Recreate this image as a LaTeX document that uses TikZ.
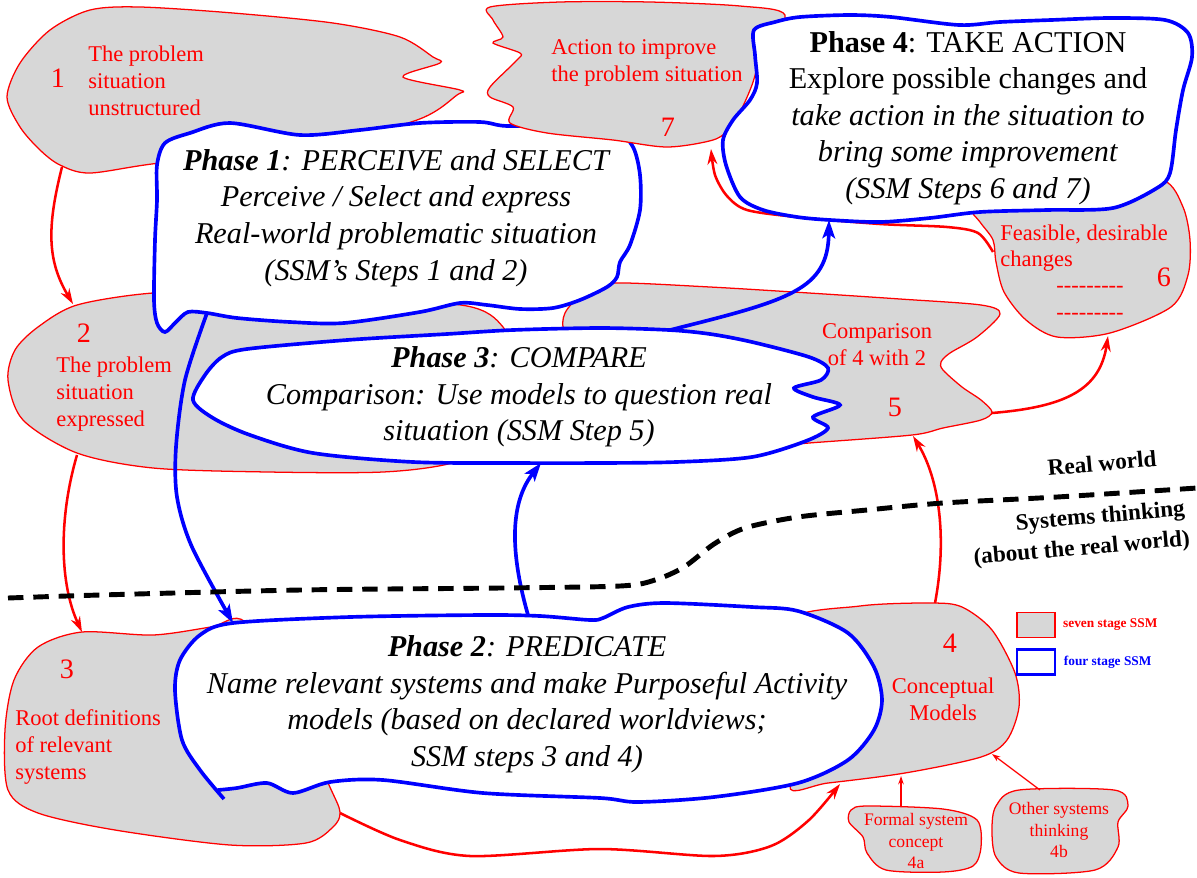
\documentclass[tikz,border=0pt]{standalone}
\usepackage{fontspec}
\setmainfont{Liberation Serif}
\usepackage{xcolor}
\usetikzlibrary{arrows.meta, positioning, calc}
\definecolor{ssm-grey}{HTML}{D7D7D7}
\definecolor{ssm-red}{HTML}{FF0000}
\definecolor{ssm-blue}{HTML}{0000FF}
\newcommand{\blankrow}{\mbox{-}\mbox{-}\mbox{-}\mbox{-}\mbox{-}\mbox{-}\mbox{-}\mbox{-}\mbox{-}}

\begin{document}
\begin{tikzpicture}[x=0.025cm, y=-0.025cm,
    stage/.style={draw=ssm-red, fill=ssm-grey, line width=0.9pt},
    phase/.style={draw=ssm-blue, fill=white, line width=2.6pt},
    redflow/.style={-{Stealth[length=11pt, width=7pt]}, draw=ssm-red, line width=1.8pt},
    thinflow/.style={-{Stealth[length=6pt, width=4pt]}, draw=ssm-red, line width=0.9pt},
    blueflow/.style={-{Stealth[length=13pt, width=9pt, inset=3pt]}, draw=ssm-blue, line width=2.6pt},
    stagetxt/.style={text=ssm-red, font=\fontsize{16}{19}\selectfont, align=left, inner sep=0pt},
    stagenum/.style={text=ssm-red, font=\fontsize{20}{24}\selectfont, inner sep=0pt},
    subtxt/.style={text=ssm-red, font=\fontsize{12.5}{15.2}\selectfont, align=center, inner sep=0pt},
    phasetxt/.style={font=\fontsize{21.5}{26}\selectfont\itshape, align=center, inner sep=0pt},
    worldtxt/.style={font=\fontsize{16.5}{18.5}\selectfont\bfseries, rotate=5, inner sep=0pt},
    keytxt/.style={font=\fontsize{9.5}{11}\selectfont\bfseries, inner sep=0pt},
    keybox/.style={minimum width=0.95cm, minimum height=0.62cm, inner sep=0pt},
    divider/.style={line width=3.5pt, dash pattern=on 11pt off 7pt}
]
    \useasboundingbox (0,0) rectangle (1197,877);

    \draw[stage] plot[smooth cycle] coordinates {(7,97) (20,63) (50,30) (90,10) (140,7) (233,13) (333,23) (400,37) (433,57) (440,63) (403,77) (460,90) (457,95) (417,120) (300,150) (160,163) (90,173) (60,165) (40,150) (20,127)};
    \draw[stage] plot[smooth cycle] coordinates {(38,327) (77,305) (153,293) (250,292) (350,297) (467,306) (503,327) (520,370) (500,440) (452,463) (383,472) (268,472) (153,468) (77,453) (23,420) (8,380) (15,350)};
    \draw[stage] plot[smooth cycle] coordinates {(566,335) (565,313) (585,292) (613,283) (710,287) (809,293) (900,299) (981,305) (1000,314) (977,337) (950,353) (941,362) (943,370) (962,387) (981,400) (992,412) (981,420) (943,428) (912,435) (809,443) (720,450) (640,430) (600,380)};
    \draw[stage] plot[smooth cycle] coordinates {(972,208) (980,222) (993,240) (996,262) (1004,292) (1026,320) (1057,337) (1110,333) (1171,307) (1188,275) (1190,240) (1183,207) (1163,180) (1100,175) (1000,190)};
    \draw[stage] plot[smooth cycle] coordinates {(38,647) (82,632) (153,635) (211,627) (245,622) (290,700) (329,785) (340,812) (333,827) (306,843) (230,845) (115,830) (38,813) (8,790) (5,730) (14,680)};
    \draw[stage] plot[smooth cycle] coordinates {(790,622) (860,606) (931,603) (962,607) (992,630) (1015,673) (1019,707) (1007,740) (981,757) (905,773) (828,783) (790,786) (840,700)};
    \draw[stage] plot[smooth cycle] coordinates {(851,810) (867,806) (943,809) (977,820) (981,847) (973,866) (943,872) (886,870) (867,853) (863,837) (849,822)};
    \draw[stage] plot[smooth cycle] coordinates {(996,806) (1019,790) (1114,790) (1128,806) (1118,822) (1118,847) (1095,870) (1019,873) (996,857) (992,830)};

    \coordinate (out1) at (62,167);
    \coordinate (in2) at (73,304);
    \coordinate (out2) at (77,455);
    \coordinate (in3) at (82,632);
    \coordinate (out3) at (340,813);
    \coordinate (in4) at (840,784);
    \coordinate (out4) at (935,603);
    \coordinate (in5) at (913,436);
    \coordinate (out5) at (992,413);
    \coordinate (in6) at (1108,336);
    \coordinate (out6) at (993,252);
    \coordinate (in7) at (711,149);
    \coordinate (out4a) at (901,807);
    \coordinate (in4a) at (901,776);
    \coordinate (out4b) at (1040,790);
    \coordinate (in4b) at (992,754);

    \draw[redflow] (out1) .. controls (46,230) and (48,262) .. (in2);
    \draw[redflow] (out2) .. controls (58,520) and (60,585) .. (in3);
    \draw[redflow] plot[smooth] coordinates {(out3) (400,840) (470,856) (600,849) (714,856) (771,846) (809,820) (in4)};
    \draw[redflow] (out4) .. controls (947,540) and (940,480) .. (in5);
    \draw[redflow] (out5) .. controls (1065,407) and (1100,390) .. (in6);
    \draw[redflow] plot[smooth] coordinates {(out6) (978,233) (947,227) (880,224) (797,217) (747,210) (727,196) (715,175) (in7)};
    \draw[thinflow] (out4a) -- (in4a);
    \draw[thinflow] (out4b) -- (in4b);

    \draw[phase] plot[smooth cycle] coordinates {(157,165) (165,143) (190,133) (230,123) (300,135) (360,130) (420,123) (480,122) (507,126) (570,125) (615,130) (633,147) (640,175) (640,210) (630,245) (620,262) (617,277) (607,287) (580,300) (553,308) (520,309) (487,305) (460,303) (420,312) (344,323) (290,322) (237,318) (207,313) (188,312) (176,322) (165,332) (157,323) (154,300) (155,240) (157,200)};
    \draw[stage] plot[smooth cycle] coordinates {(490,7) (493,20) (503,37) (493,43) (520,53) (517,60) (490,87) (490,97) (513,107) (510,123) (547,133) (613,140) (667,147) (713,140) (730,128) (742,108) (752,85) (762,55) (785,15) (740,6) (650,2) (560,2)};
    \draw[phase] plot[smooth cycle] coordinates {(193,400) (205,375) (222,357) (247,349) (347,340) (447,334) (513,330) (600,328) (669,330) (710,334) (752,342) (809,357) (828,368) (821,380) (794,388) (813,397) (840,405) (813,417) (828,428) (806,441) (752,457) (676,462) (600,463) (513,463) (413,462) (313,453) (250,435) (213,418)};
    \draw[phase] plot[smooth] coordinates {(224,799) (200,770) (182,740) (175,690) (180,660) (200,635) (233,623) (350,617) (483,615) (540,616) (590,620) (603,618) (628,607) (665,603) (752,607) (798,611) (848,633) (874,667) (882,700) (874,730) (848,760) (798,783) (714,797) (638,802) (600,798) (483,793) (383,780) (330,782) (293,793) (267,783) (237,788) (218,790)};
    \draw[phase] plot[smooth cycle] coordinates {(754,30) (775,22) (800,17) (850,15) (891,17) (959,25) (1000,22) (1051,20) (1110,18) (1165,20) (1188,33) (1192,57) (1183,90) (1176,130) (1170,173) (1157,188) (1113,208) (1047,210) (980,212) (930,218) (880,222) (830,220) (797,217) (763,210) (740,197) (726,165) (723,140) (733,120) (750,100) (757,83) (755,55)};

    \coordinate (p1out) at (207,313);
    \coordinate (p2in) at (233,623);
    \coordinate (p2out) at (528,615);
    \coordinate (p3in) at (541,463);
    \coordinate (p3out) at (670,330);
    \coordinate (p4in) at (829,220);

    \draw[blueflow] plot[smooth] coordinates {(p1out) (185,380) (176,447) (177,497) (192,547) (p2in)};
    \draw[blueflow] (p2out) .. controls (508,545) and (512,500) .. (p3in);
    \draw[blueflow] (p3out) .. controls (790,300) and (828,290) .. (p4in);

    \draw[divider] plot[smooth] coordinates {(8,598) (100,595) (300,590) (500,588) (620,586) (655,580) (684,567) (714,544) (745,528) (798,517) (867,510) (943,503) (1057,497) (1197,488)};

    \node (num1) [stagenum] at (58,78) {1};
    \node (unstructured) [stagetxt, anchor=west] at (88,81) {The problem\\situation\\unstructured};
    \node (num2) [stagenum] at (84,333) {2};
    \node (expressed) [stagetxt, anchor=west] at (56,394) {The problem\\situation\\expressed};
    \node (num3) [stagenum] at (67,669) {3};
    \node (rootdefs) [stagetxt, anchor=west] at (15,747) {Root definitions\\of relevant\\systems};
    \node (num4) [stagenum] at (950,643) {4};
    \node (models) [stagetxt, align=center] at (943,699) {Conceptual\\Models};
    \node (num5) [stagenum] at (895,407) {5};
    \node (compare) [stagetxt, align=center] at (877,345) {Comparison\\of 4 with 2};
    \node (num6) [stagenum] at (1164,277) {6};
    \node (changes) [stagetxt, anchor=west] at (1000,248) {Feasible, desirable\\changes};
    \node (blanks) [stagetxt, align=center] at (1090,303) {\blankrow\\\blankrow};
    \node (num7) [stagenum] at (668,127) {7};
    \node (action) [stagetxt, anchor=west] at (551,63) {Action to improve\\the problem situation};
    \node (formal) [subtxt] at (916,841) {Formal system\\concept\\4a};
    \node (other) [subtxt] at (1059,830) {Other systems\\thinking\\4b};

    \node (phase1) [phasetxt] at (396,218) {\textbf{Phase 1}: PERCEIVE and SELECT\\Perceive / Select and express\\Real-world problematic situation\\(SSM's Steps 1 and 2)};
    \node (phase2) [phasetxt] at (527,704) {\textbf{Phase 2}: PREDICATE\\Name relevant systems and make Purposeful Activity\\models (based on declared worldviews;\\SSM steps 3 and 4)};
    \node (phase3) [phasetxt] at (519,397) {\textbf{Phase 3}: COMPARE\\Comparison: Use models to question real\\situation (SSM Step 5)};
    \node (phase4) [phasetxt, font=\fontsize{21.5}{26}\selectfont] at (968,118) {\textbf{Phase 4}: TAKE ACTION\\Explore possible changes and\\\textit{take action in the situation to}\\\textit{bring some improvement}\\\textit{(SSM Steps 6 and 7)}};

    \node (realworld) [worldtxt] at (1102,463) {Real world};
    \node (systhink) [worldtxt, anchor=east] at (1185,510) {Systems thinking};
    \node (aboutreal) [worldtxt, anchor=east] at (1190,540) {(about the real world)};

    \node (key7) [stage, keybox] at (1036,625) {};
    \node (key7txt) [keytxt, text=ssm-red, right=0.18cm of key7] {seven stage SSM};
    \node (key4) [phase, keybox, line width=2pt, below=0.25cm of key7] {};
    \node (key4txt) [keytxt, text=ssm-blue, right=0.18cm of key4] {four stage SSM};
\end{tikzpicture}
\end{document}
